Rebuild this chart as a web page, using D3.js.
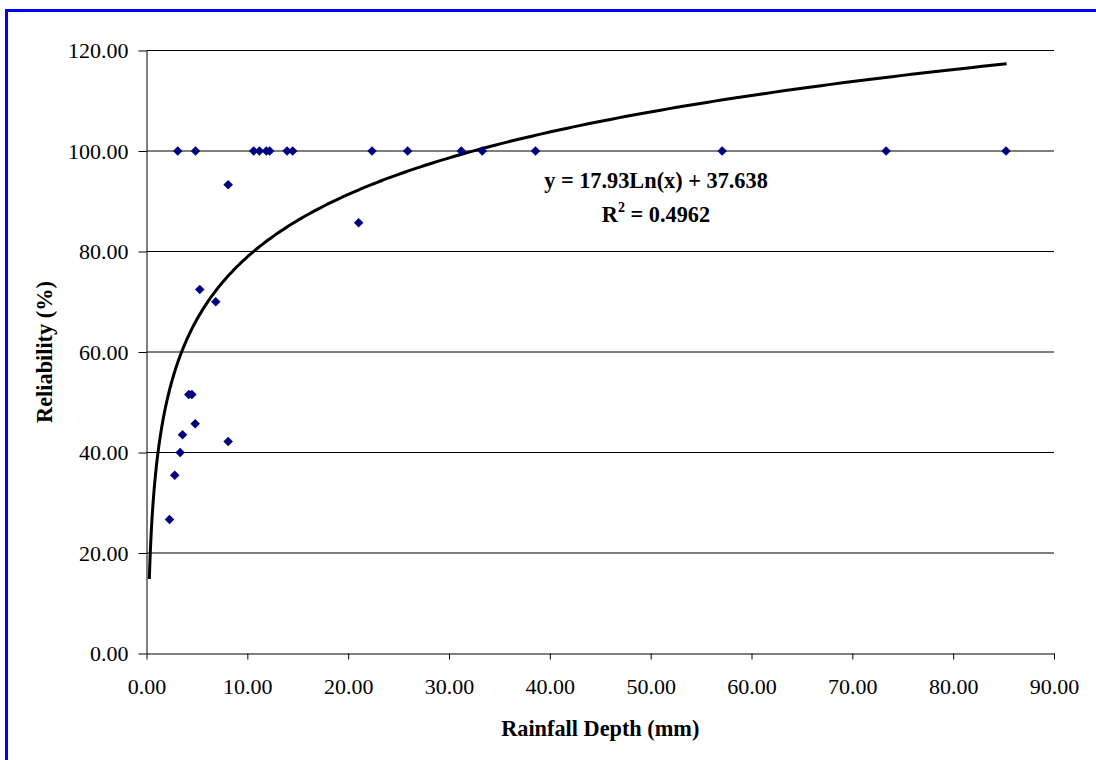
<!DOCTYPE html>
<html>
<head>
<meta charset="utf-8">
<script src="https://cdn.jsdelivr.net/npm/d3@7"></script>
<style>
  html, body { margin: 0; padding: 0; background: #fff; }
  svg { display: block; font-family: "Liberation Serif", "Times New Roman", serif; }
</style>
</head>
<body>
<div id="chart"></div>
<script>
// Rainfall depth (mm) vs reliability (%)
const rainfall = [
  3.10, 4.86, 10.63, 11.20, 11.89, 12.22, 13.94, 14.50, 22.37, 25.90,
  31.22, 33.30, 38.58, 57.09, 73.35, 85.24,
  8.10, 21.04, 5.28, 6.87, 4.20, 4.50, 4.83, 3.57, 8.10, 3.34, 2.80, 2.28
];
const reliability = [
  100, 100, 100, 100, 100, 100, 100, 100, 100, 100,
  100, 100, 100, 100, 100, 100,
  93.27, 85.71, 72.44, 69.99, 51.54, 51.54, 45.71, 43.52, 42.19, 40.00, 35.48, 26.67
];
const xTicks = [0, 10, 20, 30, 40, 50, 60, 70, 80, 90];
const yTicks = [0, 20, 40, 60, 80, 100, 120];

// logarithmic trendline as printed on the chart
const trendA = 17.93;
const trendB = 37.638;
const trendRange = [0.28, 85.3];
const trendLabel = ['y = 17.93Ln(x) + 37.638', '0.4962'];

const width = 1096;
const height = 760;
const plot = { left: 146.5, right: 1054, top: 50.5, bottom: 653.5 };

const svg = d3.select('#chart').append('svg')
  .attr('width', width)
  .attr('height', height);

// blue frame round the chart (only top & left visible in the window)
svg.append('rect')
  .attr('x', 6.5).attr('y', 10.5)
  .attr('width', width + 20).attr('height', height + 20)
  .attr('fill', 'none')
  .attr('stroke', '#0000ff')
  .attr('stroke-width', 3);

const x = d3.scaleLinear().domain([0, 90]).range([plot.left, plot.right]);
const y = d3.scaleLinear().domain([0, 120]).range([plot.bottom, plot.top]);

// gridlines
svg.append('g')
  .selectAll('line')
  .data(yTicks.filter(d => d > 0))
  .join('line')
  .attr('x1', plot.left).attr('x2', plot.right)
  .attr('y1', d => y(d)).attr('y2', d => y(d))
  .attr('stroke', '#000')
  .attr('stroke-width', 1);

// axes
const xAxis = svg.append('g')
  .attr('transform', `translate(0,${plot.bottom})`)
  .call(d3.axisBottom(x).tickValues(xTicks).tickFormat(d3.format('.2f')).tickSizeInner(6).tickSizeOuter(0).tickPadding(19));

const yAxis = svg.append('g')
  .attr('transform', `translate(${plot.left},0)`)
  .call(d3.axisLeft(y).tickValues(yTicks).tickFormat(d3.format('.2f')).tickSizeInner(8).tickSizeOuter(0).tickPadding(10));

[xAxis, yAxis].forEach(g => {
  g.select('.domain').attr('stroke', '#000').attr('stroke-width', 1);
  g.selectAll('.tick line').attr('stroke', '#000');
  g.selectAll('text')
    .attr('fill', '#000')
    .style('font-family', '"Liberation Serif", "Times New Roman", serif')
    .style('font-size', '22px');
});
xAxis.selectAll('text').attr('dy', '0.71em');

// trend line
const trendPts = d3.range(0, 401).map(i => {
  const xv = trendRange[0] * Math.pow(trendRange[1] / trendRange[0], i / 400);
  return [xv, trendA * Math.log(xv) + trendB];
});
svg.append('path')
  .datum(trendPts)
  .attr('fill', 'none')
  .attr('stroke', '#000')
  .attr('stroke-width', 3)
  .attr('d', d3.line().x(d => x(d[0])).y(d => y(d[1])));

// points
const symbol = d3.symbol().type(d3.symbolDiamond2).size(58);
svg.append('g')
  .selectAll('path')
  .data(rainfall.map((r, i) => [r, reliability[i]]))
  .join('path')
  .attr('transform', d => `translate(${x(d[0])},${y(d[1])})`)
  .attr('d', symbol)
  .attr('fill', '#000080');

// trend label
const lab = svg.append('g')
  .attr('font-weight', 'bold')
  .attr('font-size', 22.3)
  .attr('text-anchor', 'middle');
lab.append('text')
  .attr('x', 656).attr('y', 188)
  .text(trendLabel[0]);
const r2 = lab.append('text')
  .attr('x', 656).attr('y', 222);
r2.append('tspan').text('R');
r2.append('tspan').attr('font-size', 14).attr('dy', -10).text('2');
r2.append('tspan').attr('dy', 10).text(' = ' + trendLabel[1]);

// axis titles
svg.append('text')
  .attr('x', (plot.left + plot.right) / 2).attr('y', 736)
  .attr('text-anchor', 'middle')
  .attr('font-weight', 'bold')
  .attr('font-size', 22.3)
  .text('Rainfall Depth (mm)');

svg.append('text')
  .attr('transform', `translate(52,${(plot.top + plot.bottom) / 2}) rotate(-90)`)
  .attr('text-anchor', 'middle')
  .attr('font-weight', 'bold')
  .attr('font-size', 22.3)
  .text('Reliability (%)');
</script>
</body>
</html>
